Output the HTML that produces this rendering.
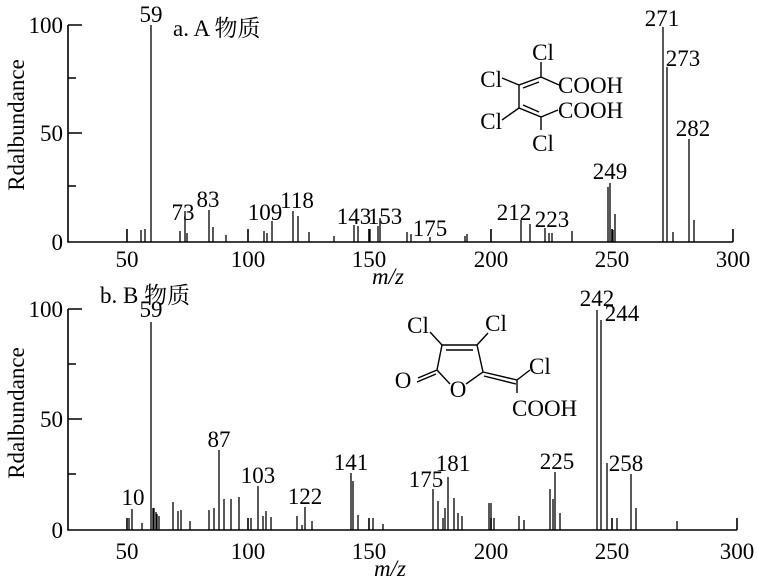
<!DOCTYPE html>
<html><head><meta charset="utf-8"><style>
html,body{margin:0;padding:0;background:#fff;}
svg{display:block;}
text{font-family:"Liberation Serif","Noto Serif CJK SC","Noto Sans CJK SC",serif;fill:#000;}
</style></head><body>
<svg width="757" height="580" viewBox="0 0 757 580" xmlns="http://www.w3.org/2000/svg">
<g stroke="#000" stroke-width="1.6" fill="none">
<path d="M68 25V242H733"/>
<path d="M68 25H82M68 78H76M68 133H82M68 186H76"/>
<path d="M127 242v-13M248 242v-13M369 242v-13M491 242v-13M612 242v-13M733 242v-13"/>
<path d="M68 309V530H737"/>
<path d="M68 309H82M68 364H76M68 419H82M68 474H76"/>
<path d="M127 530v-12M248 530v-12M369 530v-12M491 530v-12M612 530v-12M737 530v-12"/>
</g>
<g stroke="#000" stroke-width="1.3">
<path d="M141 242V230M145 242V229M151 242V25M180 242V231M185 242V211M187 242V233M209 242V210M213 242V227M226 242V235M264 242V231M267 242V233M272 242V221M293 242V211M298 242V216M309 242V232M334 242V236M354 242V225M358 242V226M370 242V229M378 242V226M380 242V218M407 242V232M411 242V234M430 242V237M465 242V236M467 242V234M521 242V220M530 242V224M545 242V228M549 242V233M552 242V233M572 242V231M608 242V187M610 242V183M613 242V230M615 242V214M663 242V27M667 242V67M673 242V232M689 242V139M694 242V220"/>
<path d="M129 530V518M132 530V509M142 530V523M151 530V322M153 530V508M154 530V508M156 530V512M157 530V514M159 530V516M173 530V502M178 530V511M181 530V510M190 530V521M209 530V510M214 530V508M219 530V450M224 530V499M231 530V499M239 530V497M251 530V518M258 530V486M263 530V516M266 530V511M271 530V517M297 530V516M302 530V525M305 530V507M312 530V521M351 530V473M353 530V481M358 530V515M373 530V518M383 530V524M433 530V489M438 530V501M443 530V518M445 530V508M448 530V477M454 530V498M458 530V513M462 530V516M489 530V503M491 530V503M494 530V518M519 530V516M524 530V520M550 530V489M553 530V499M555 530V472M560 530V513M597 530V310M601 530V320M607 530V463M617 530V518M631 530V474M636 530V508M677 530V521"/>
</g>
<g stroke="#000" stroke-width="1.4" fill="none">
<path d="M541 62V77L519 85V108L541 117V130M541 77L559 85M541 117L558 110M502 78L519 85M502 120L519 108M523 88L539 82M523 105L539 112"/>
</g>
<g font-size="23">
<text x="543" y="60" text-anchor="middle">Cl</text>
<text x="502" y="87" text-anchor="end">Cl</text>
<text x="558" y="93">COOH</text>
<text x="558" y="118">COOH</text>
<text x="502" y="129" text-anchor="end">Cl</text>
<text x="543" y="151" text-anchor="middle">Cl</text>
</g>
<g stroke="#000" stroke-width="1.4" fill="none">
<path d="M442 345L477 345L483 372L466 384M450 384L437 370L442 345M446 350L473 350M430 332L442 345M488 333L477 345M437 370L418 378M436 374L417 382M483 372L517 380M484 376L516 384M517 380L530 370M517 380V393"/>
</g>
<g font-size="23">
<text x="418" y="333" text-anchor="middle">Cl</text>
<text x="496" y="331" text-anchor="middle">Cl</text>
<text x="529" y="374">Cl</text>
<text x="403" y="388" text-anchor="middle">O</text>
<text x="458" y="397" text-anchor="middle">O</text>
<text x="512" y="416">COOH</text>
</g>
<g font-size="23">
<text x="63" y="33" text-anchor="end">100</text>
<text x="63" y="141" text-anchor="end">50</text>
<text x="63" y="250" text-anchor="end">0</text>
<text x="63" y="317" text-anchor="end">100</text>
<text x="63" y="427" text-anchor="end">50</text>
<text x="63" y="538" text-anchor="end">0</text>
<g text-anchor="middle">
<text x="127" y="267">50</text><text x="248" y="267">100</text><text x="369" y="267">150</text><text x="491" y="267">200</text><text x="612" y="267">250</text><text x="733" y="267">300</text>
<text x="127" y="559">50</text><text x="248" y="559">100</text><text x="369" y="559">150</text><text x="491" y="559">200</text><text x="612" y="559">250</text><text x="737" y="559">300</text>
</g>
<text x="24" y="125" text-anchor="middle" transform="rotate(-90 24 125)">Rdalbundance</text>
<text x="24" y="413" text-anchor="middle" transform="rotate(-90 24 413)">Rdalbundance</text>
<text x="388" y="284" text-anchor="middle" font-style="italic">m/z</text>
<text x="390" y="576" text-anchor="middle" font-style="italic">m/z</text>
<text x="173" y="36">a. A 物质</text>
<text x="100" y="303">b. B 物质</text>
<text x="151" y="22" text-anchor="middle">59</text>
<text x="183" y="220" text-anchor="middle">73</text>
<text x="208" y="207" text-anchor="middle">83</text>
<text x="265" y="220" text-anchor="middle">109</text>
<text x="297" y="208" text-anchor="middle">118</text>
<text x="354" y="224" text-anchor="middle">143</text>
<text x="385" y="224" text-anchor="middle">153</text>
<text x="430" y="236" text-anchor="middle">175</text>
<text x="514" y="220" text-anchor="middle">212</text>
<text x="552" y="227" text-anchor="middle">223</text>
<text x="610" y="179" text-anchor="middle">249</text>
<text x="662" y="26" text-anchor="middle">271</text>
<text x="683" y="66" text-anchor="middle">273</text>
<text x="693" y="136" text-anchor="middle">282</text>
<text x="151" y="317" text-anchor="middle">59</text>
<text x="133" y="505" text-anchor="middle">10</text>
<text x="219" y="447" text-anchor="middle">87</text>
<text x="258" y="483" text-anchor="middle">103</text>
<text x="305" y="504" text-anchor="middle">122</text>
<text x="351" y="470" text-anchor="middle">141</text>
<text x="426" y="487" text-anchor="middle">175</text>
<text x="453" y="471" text-anchor="middle">181</text>
<text x="557" y="469" text-anchor="middle">225</text>
<text x="597" y="306" text-anchor="middle">242</text>
<text x="622" y="321" text-anchor="middle">244</text>
<text x="626" y="471" text-anchor="middle">258</text>
</g>
</svg>
</body></html>
